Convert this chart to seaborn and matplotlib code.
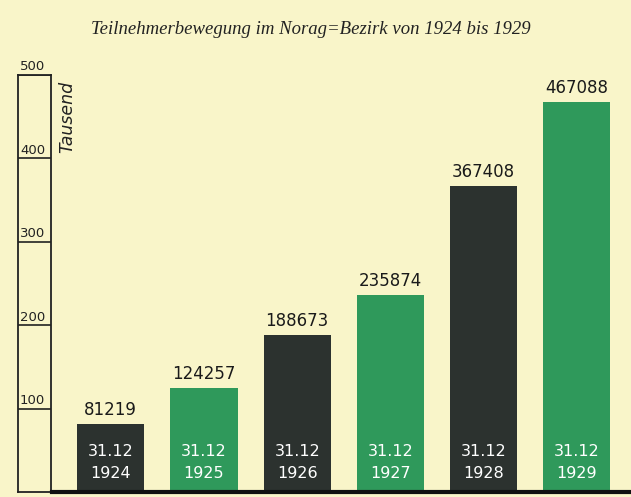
import matplotlib.pyplot as plt
import pandas as pd
import seaborn as sns

# data
years = ['1924', '1925', '1926', '1927', '1928', '1929']
subscribers = [81219, 124257, 188673, 235874, 367408, 467088]
scale_ticks = [100, 200, 300, 400, 500]

bg = '#f9f5c9'
dark = '#2c322f'
green = '#2f995b'

df = pd.DataFrame({'year': years, 'value': [v / 1000 for v in subscribers]})

sns.set_theme(style='white')
plt.rcParams['font.family'] = ['DejaVu Sans']

fig = plt.figure(figsize=(6.31, 4.97), dpi=100)
fig.patch.set_facecolor(bg)

y0, h = 0.010, 0.839

# scale column on the left
sc = fig.add_axes([18 / 631, y0, 33 / 631, h])
sc.set_facecolor(bg)
sc.set_ylim(0, 500)
sc.set_xlim(0, 1)
for s in sc.spines.values():
    s.set_color('#222222')
    s.set_linewidth(1.3)
    s.set_visible(True)
for t in scale_ticks:
    sc.axhline(t, color='#222222', lw=1.2)
    sc.text(0.06, t + 2, str(t), fontsize=9.5, ha='left', va='bottom', color='#222222')
sc.set_xticks([])
sc.set_yticks([])

# bars
ax = fig.add_axes([52 / 631, y0, 579 / 631, h])
ax.set_facecolor('none')
colors = [dark, green, dark, green, dark, green]
sns.barplot(data=df, x='year', y='value', hue='year', palette=colors,
            width=0.72, saturation=1, legend=False, linewidth=0, ax=ax)
ax.set_xlim(-0.63, 5.58)
ax.set_ylim(0, 500)
for s in ['top', 'right', 'left']:
    ax.spines[s].set_visible(False)
ax.spines['bottom'].set_color('#111111')
ax.spines['bottom'].set_linewidth(3)
ax.set_xticks([])
ax.set_yticks([])
ax.set_xlabel('')
ax.set_ylabel('')

for i, (yr, v) in enumerate(zip(years, subscribers)):
    ax.text(i, v / 1000 + 6, str(v), ha='center', va='bottom', fontsize=12, color='#1a1a1a')
    ax.text(i, 48, '31.12', ha='center', va='center', fontsize=11.5, color='white')
    ax.text(i, 22, yr, ha='center', va='center', fontsize=11.5, color='white')

fig.text(67 / 631, 1 - 117 / 497, 'Tausend', rotation=90, ha='center', va='center',
         fontsize=12.5, style='italic', color='#222222')

fig.text(311 / 631, 1 - 30 / 497, 'Teilnehmerbewegung im Norag=Bezirk von 1924 bis 1929',
         ha='center', va='center', fontsize=13.5, style='italic',
         family='Liberation Serif', color='#222222')

fig.savefig('out.png', dpi=100, facecolor=bg)
